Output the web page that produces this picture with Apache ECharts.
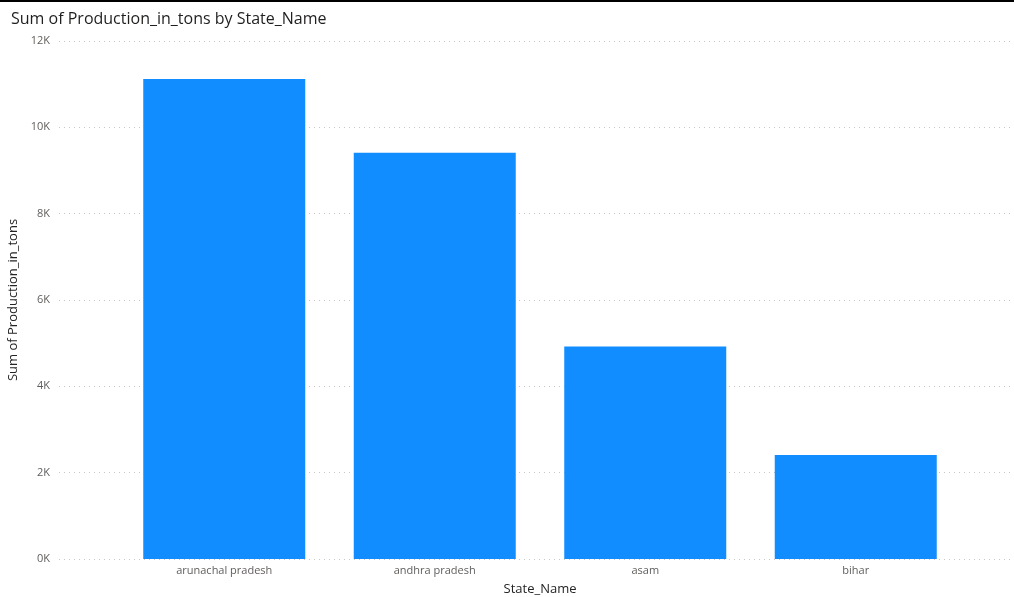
<!DOCTYPE html>
<html>
<head>
<meta charset="utf-8">
<script src="https://cdn.jsdelivr.net/npm/echarts@6/dist/echarts.min.js"></script>
<style>
  html, body { margin: 0; padding: 0; background: #fff; }
  #chart { width: 1014px; height: 597px; }
</style>
</head>
<body>
<div id="chart"></div>
<script>
// data
var states = ['arunachal pradesh', 'andhra pradesh', 'asam', 'bihar'];
var production = [11120, 9410, 4920, 2410];
var yTicks = [0, 2000, 4000, 6000, 8000, 10000, 12000];

var chart = echarts.init(document.getElementById('chart'));
var font = '"Open Sans", "Noto Sans", sans-serif';

var option = {
    animation: false,
    textStyle: { fontFamily: font },
    title: {
        text: 'Sum of Production_in_tons by State_Name',
        left: 6,
        top: 6,
        textStyle: { fontSize: 16, fontWeight: 'normal', color: '#201F1E', fontFamily: font }
    },
    graphic: [{
        type: 'rect',
        shape: { x: 0, y: 0, width: 1014, height: 2 },
        style: { fill: '#000' }
    }],
    grid: [
        // gridlines and y labels span the full width
        { left: 59, right: 3, top: 41, bottom: 38, outerBoundsMode: 'none' },
        // bars sit in a narrower inner band, like Power BI
        { left: 119, right: 53, top: 41, bottom: 38, outerBoundsMode: 'none' }
    ],
    xAxis: [
        { gridIndex: 0, type: 'value', show: false, min: 0, max: 1 },
        {
            gridIndex: 1,
            type: 'category',
            data: states,
            axisLine: { show: false },
            axisTick: { show: false },
            axisLabel: { color: '#605E5C', fontSize: 11, margin: 6, fontFamily: font },
            name: 'State_Name',
            nameLocation: 'middle',
            nameGap: 24,
            nameTextStyle: { color: '#252423', fontSize: 13, fontFamily: font }
        }
    ],
    yAxis: [
        {
            gridIndex: 0,
            type: 'value',
            min: 0,
            max: 12000,
            interval: 2000,
            axisLine: { show: false },
            axisTick: { show: false },
            axisLabel: {
                color: '#605E5C',
                fontSize: 11,
                margin: 9,
                fontFamily: font,
                formatter: function (v) { return (v / 1000) + 'K'; }
            },
            splitLine: { lineStyle: { color: '#C8C6C4', type: [1, 4], width: 1 } },
            name: 'Sum of Production_in_tons',
            nameLocation: 'middle',
            nameGap: 31,
            nameTextStyle: { color: '#252423', fontSize: 13, fontFamily: font }
        },
        { gridIndex: 1, type: 'value', min: 0, max: 12000, show: false }
    ],
    series: [{
        type: 'bar',
        xAxisIndex: 1,
        yAxisIndex: 1,
        data: production,
        barWidth: 162,
        itemStyle: { color: '#118DFF' }
    }]
};

chart.setOption(option);
</script>
</body>
</html>
